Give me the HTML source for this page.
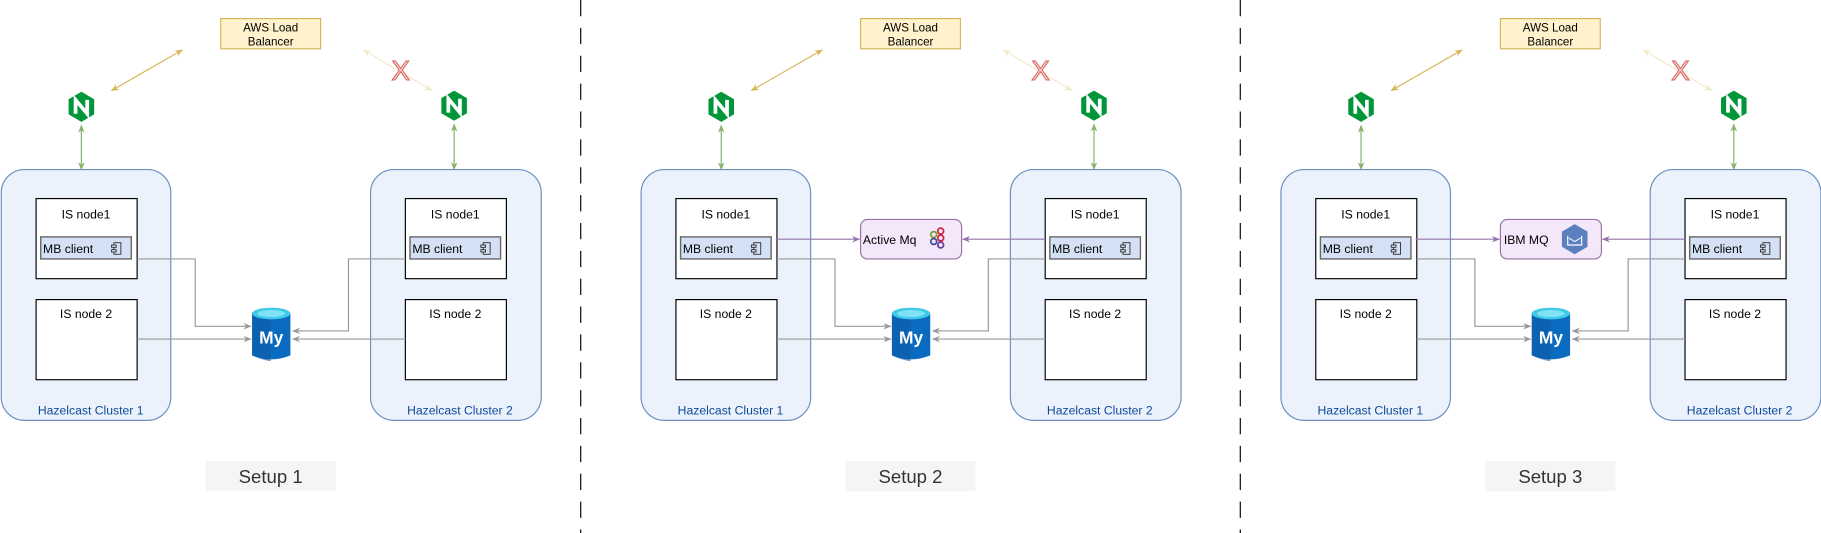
<!DOCTYPE html>
<html><head><meta charset="utf-8"><style>
html,body{margin:0;padding:0;background:#fff}
svg{display:block}
text{font-family:"Liberation Sans",Arial,sans-serif}
</style></head><body>
<svg width="1821" height="533" viewBox="0 0 1568 459" xmlns="http://www.w3.org/2000/svg">
<defs>
<marker id="ag" viewBox="0 0 10 10" refX="9" refY="5" markerWidth="7" markerHeight="7" orient="auto-start-reverse"><path d="M0,1 L10,5 L0,9 L3,5 z" fill="#999"/></marker>
<marker id="ap" viewBox="0 0 10 10" refX="9" refY="5" markerWidth="7" markerHeight="7" orient="auto-start-reverse"><path d="M0,1 L10,5 L0,9 L3,5 z" fill="#9673a6"/></marker>
<marker id="agr" viewBox="0 0 10 10" refX="9" refY="5" markerWidth="7" markerHeight="7" orient="auto-start-reverse"><path d="M0,1 L10,5 L0,9 L3,5 z" fill="#82b366"/></marker>
<marker id="ay" viewBox="0 0 10 10" refX="9" refY="5" markerWidth="7" markerHeight="7" orient="auto-start-reverse"><path d="M0,1 L10,5 L0,9 L3,5 z" fill="#d6b656"/></marker>
<marker id="af" viewBox="0 0 10 10" refX="9" refY="5" markerWidth="7" markerHeight="7" orient="auto-start-reverse"><path d="M0,1 L10,5 L0,9 L3,5 z" fill="#f3e8c8"/></marker>
<g id="nx"><path d="M0,-13 L11,-6.5 L11,6.5 L0,13 L-11,6.5 L-11,-6.5 z" fill="#009639"/><path d="M-5,6 L-5,-6 L5,6 L5,-6" stroke="#fff" stroke-width="3.2" fill="none" stroke-linejoin="miter"/></g>
<g id="my"><path d="M0,4 L0,40 Q16,47 33,40 L33,4 z" fill="#0a6cc0"/><path d="M0,4 L0,40 Q8,44 16,45 L16,8 z" fill="#0e5aa7" opacity="0.6"/><ellipse cx="16.5" cy="4" rx="16.5" ry="5" fill="#3ec9e8"/><ellipse cx="16.5" cy="4" rx="12" ry="3" fill="#7fe3f5"/><text x="16.5" y="30" font-size="15" font-weight="bold" fill="#fff" text-anchor="middle">My</text></g>
</defs>

<g id="setup">
<rect x="190" y="16" width="86" height="26" fill="#fff2cc" stroke="#d6b656"/>
<text x="233" y="27" font-size="10" text-anchor="middle">AWS Load</text>
<text x="233" y="39" font-size="10" text-anchor="middle">Balancer</text>
<line x1="96" y1="78" x2="157" y2="43" stroke="#d6b656" marker-start="url(#ay)" marker-end="url(#ay)"/>
<line x1="313" y1="43" x2="372" y2="78" stroke="#f3e8c8" marker-start="url(#af)" marker-end="url(#af)"/>
<text x="345" y="69" font-size="24" fill="#f8cecc" stroke="#d35c58" stroke-width="0.8" text-anchor="middle">X</text>
<use href="#nx" x="70" y="92"/>
<use href="#nx" x="391" y="91"/>
<line x1="70" y1="108" x2="70" y2="146" stroke="#82b366" marker-start="url(#agr)" marker-end="url(#agr)"/>
<line x1="391" y1="107" x2="391" y2="146" stroke="#82b366" marker-start="url(#agr)" marker-end="url(#agr)"/>
<rect x="1" y="146" width="146" height="216" rx="20" fill="#ebf2fc" stroke="#6c8ebf"/>
<text x="78" y="357" font-size="10.5" fill="#0d4a9a" text-anchor="middle">Hazelcast Cluster 1</text>
<rect x="319" y="146" width="147" height="216" rx="20" fill="#ebf2fc" stroke="#6c8ebf"/>
<text x="396" y="357" font-size="10.5" fill="#0d4a9a" text-anchor="middle">Hazelcast Cluster 2</text>
<rect x="31" y="171" width="87" height="69" fill="#fff" stroke="#000"/>
<text x="74" y="188" font-size="10.5" text-anchor="middle">IS node1</text>
<rect x="35" y="204" width="78" height="19" fill="#d4e1f5" stroke="#666" stroke-width="1.2"/>
<text x="37" y="218" font-size="10.5">MB client</text>
<rect x="98" y="209" width="6" height="10" fill="none" stroke="#333" stroke-width="0.8"/><rect x="96" y="211" width="4" height="2" fill="#d4e1f5" stroke="#333" stroke-width="0.8"/><rect x="96" y="215" width="4" height="2" fill="#d4e1f5" stroke="#333" stroke-width="0.8"/>
<rect x="31" y="258" width="87" height="69" fill="#fff" stroke="#000"/>
<text x="74" y="274" font-size="10.5" text-anchor="middle">IS node 2</text>
<rect x="349" y="171" width="87" height="69" fill="#fff" stroke="#000"/>
<text x="392" y="188" font-size="10.5" text-anchor="middle">IS node1</text>
<rect x="353" y="204" width="78" height="19" fill="#d4e1f5" stroke="#666" stroke-width="1.2"/>
<text x="355" y="218" font-size="10.5">MB client</text>
<rect x="416" y="209" width="6" height="10" fill="none" stroke="#333" stroke-width="0.8"/><rect x="414" y="211" width="4" height="2" fill="#d4e1f5" stroke="#333" stroke-width="0.8"/><rect x="414" y="215" width="4" height="2" fill="#d4e1f5" stroke="#333" stroke-width="0.8"/>
<rect x="349" y="258" width="87" height="69" fill="#fff" stroke="#000"/>
<text x="392" y="274" font-size="10.5" text-anchor="middle">IS node 2</text>
<use href="#my" x="217" y="266"/>
<polyline points="118,223 168,223 168,281 216,281" fill="none" stroke="#999" marker-end="url(#ag)"/>
<line x1="118" y1="292" x2="216" y2="292" stroke="#999" marker-end="url(#ag)"/>
<polyline points="349,223 300,223 300,285 252,285" fill="none" stroke="#999" marker-end="url(#ag)"/>
<line x1="349" y1="292" x2="252" y2="292" stroke="#999" marker-end="url(#ag)"/>
<rect x="177" y="397" width="112" height="26" fill="#f5f5f5"/>
<text x="233" y="416" font-size="16" fill="#333" text-anchor="middle">Setup 1</text>
</g>

<use href="#setup" x="551" y="0"/>
<use href="#setup" x="1102" y="0"/>
<rect x="728" y="397" width="112" height="26" fill="#f5f5f5"/>
<text x="784" y="416" font-size="16" fill="#333" text-anchor="middle">Setup 2</text>
<rect x="1279" y="397" width="112" height="26" fill="#f5f5f5"/>
<text x="1335" y="416" font-size="16" fill="#333" text-anchor="middle">Setup 3</text>

<rect x="741" y="189" width="87" height="34" rx="6" fill="#f3e7f9" stroke="#9673a6"/>
<text x="743" y="210" font-size="10.5">Active Mq</text>
<circle cx="804" cy="202" r="2.5" fill="none" stroke="#7a9a2a" stroke-width="1.5"/>
<circle cx="810" cy="199" r="2.5" fill="none" stroke="#d0203f" stroke-width="1.5"/>
<circle cx="810" cy="205" r="2.5" fill="none" stroke="#d0203f" stroke-width="1.5"/>
<circle cx="804" cy="208" r="2.5" fill="none" stroke="#3b4aa0" stroke-width="1.5"/>
<circle cx="810" cy="211" r="2.5" fill="none" stroke="#6a3c9a" stroke-width="1.5"/>
<line x1="668" y1="206" x2="740" y2="206" stroke="#9673a6" marker-end="url(#ap)"/>
<line x1="900" y1="206" x2="829" y2="206" stroke="#9673a6" marker-end="url(#ap)"/>

<rect x="1292" y="189" width="87" height="34" rx="6" fill="#f3e7f9" stroke="#9673a6"/>
<text x="1295" y="210" font-size="10.5">IBM MQ</text>
<path d="M1356,193 L1367,199.5 L1367,212.5 L1356,219 L1345,212.5 L1345,199.5 z" fill="#5b7fbf"/>
<path d="M1350,203 L1350,211 L1362,211 L1362,203" fill="none" stroke="#fff" stroke-width="1"/>
<path d="M1351,205 L1356,208 L1361,205" fill="none" stroke="#fff" stroke-width="0.8"/>
<line x1="1219" y1="206" x2="1291" y2="206" stroke="#9673a6" marker-end="url(#ap)"/>
<line x1="1451" y1="206" x2="1380" y2="206" stroke="#9673a6" marker-end="url(#ap)"/>

<line x1="500" y1="0" x2="500" y2="459" stroke="#000" stroke-dasharray="14,10"/>
<line x1="1068" y1="0" x2="1068" y2="459" stroke="#000" stroke-dasharray="14,10"/>
</svg>
</body></html>
